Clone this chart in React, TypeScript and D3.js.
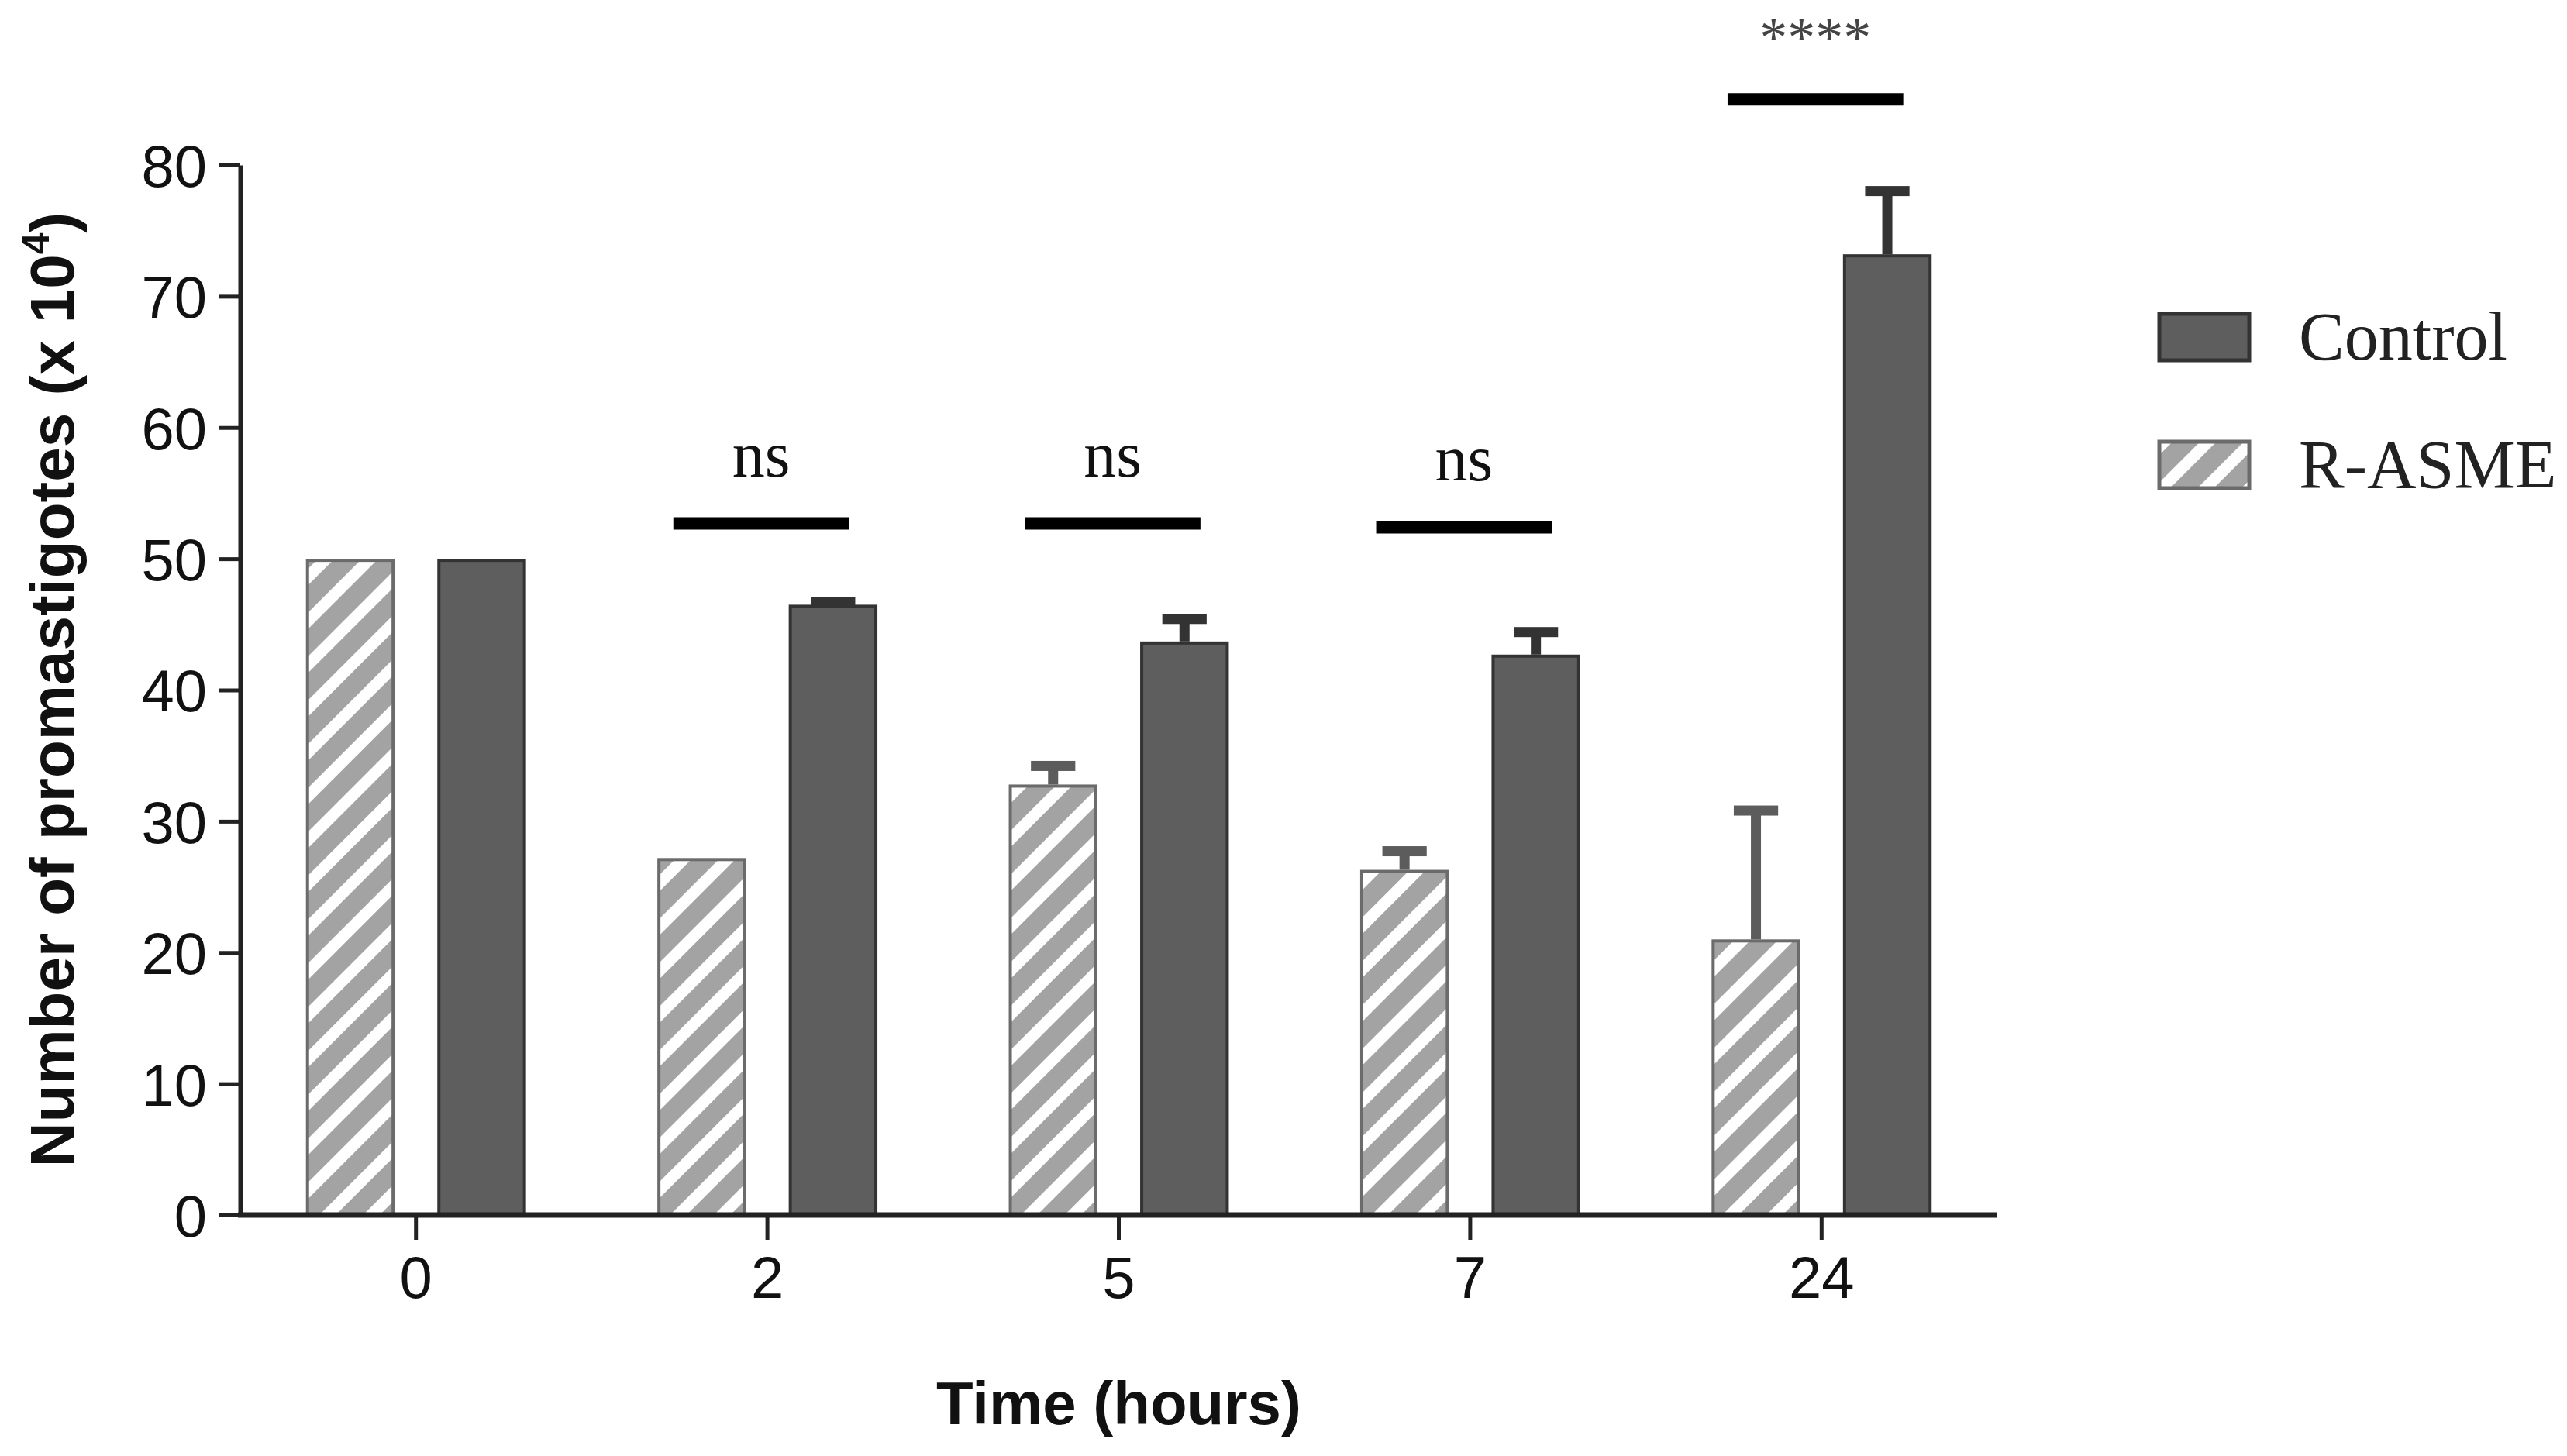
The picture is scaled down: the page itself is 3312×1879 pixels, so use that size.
import { useEffect, useRef } from "react";
import * as d3 from "d3";

const timepoints = ["0", "2", "5", "7", "24"];
const seriesNames = ["R-ASME", "Control"];
const controlMean = [50, 46.5, 43.7, 42.7, 73.2];
const controlErr = [0, 0.6, 2.1, 2.1, 5.2];
const rasmeMean = [50, 27.2, 32.8, 26.3, 21.0];
const rasmeErr = [0, 0, 1.8, 1.8, 10.2];
const sigLabels = ["", "ns", "ns", "ns", "****"];
const sigHeights = [NaN, 52.7, 52.7, 52.4, 85.0];
const yTicks = [0, 10, 20, 30, 40, 50, 60, 70, 80];
const legendItems = ["Control", "R-ASME"];

type Bar = { time: string; series: string; mean: number; err: number };

const bars: Bar[] = timepoints.flatMap((t, i) => [
  { time: t, series: "R-ASME", mean: rasmeMean[i], err: rasmeErr[i] },
  { time: t, series: "Control", mean: controlMean[i], err: controlErr[i] },
]);

const App = () => {
  const svgRef = useRef<SVGSVGElement | null>(null);

  const svgWidth = 3312;
  const svgHeight = 1879;

  useEffect(() => {
    if (!svgRef.current) return;
    const svg = d3.select(svgRef.current);
    svg.selectAll("*").remove();

    const left = 310;
    const right = 2577;
    const top = 213;
    const bottom = 1568;

    const sans = "'Liberation Sans', Arial, sans-serif";
    const serif = "'Liberation Serif', 'Times New Roman', serif";
    const axisColor = "#222";

    // hatch for R-ASME
    const defs = svg.append("defs");
    const pat = defs
      .append("pattern")
      .attr("id", "hatch")
      .attr("patternUnits", "userSpaceOnUse")
      .attr("width", 40)
      .attr("height", 40)
      .attr("patternTransform", "rotate(-45)");
    pat.append("rect").attr("width", 40).attr("height", 40).attr("fill", "#a3a3a3");
    pat.append("rect").attr("width", 40).attr("height", 15).attr("fill", "#fff");

    const x = d3.scaleBand<string>().domain(timepoints).range([left, right]);
    const xs = d3
      .scaleBand<string>()
      .domain(seriesNames)
      .range([0, x.bandwidth()])
      .paddingInner(0.325)
      .paddingOuter(0.5);
    const y = d3.scaleLinear().domain([0, 80]).range([bottom, top]);

    const fillFor = (s: string) => (s === "Control" ? "#5e5e5e" : "url(#hatch)");
    const strokeFor = (s: string) => (s === "Control" ? "#333" : "#6b6b6b");

    // bars
    const g = svg.append("g");
    g.selectAll("rect.bar")
      .data(bars)
      .join("rect")
      .attr("class", "bar")
      .attr("x", (d) => x(d.time)! + xs(d.series)! + 2)
      .attr("width", xs.bandwidth() - 4)
      .attr("y", (d) => y(d.mean) + 2)
      .attr("height", (d) => y(0) - y(d.mean) - 2)
      .attr("fill", (d) => fillFor(d.series))
      .attr("stroke", (d) => strokeFor(d.series))
      .attr("stroke-width", 4);

    // error bars
    const withErr = bars.filter((d) => d.err > 0);
    const cx = (d: Bar) => x(d.time)! + xs(d.series)! + xs.bandwidth() / 2;
    const errColor = (s: string) => (s === "Control" ? "#333" : "#5c5c5c");
    g.selectAll("line.stem")
      .data(withErr)
      .join("line")
      .attr("x1", cx)
      .attr("x2", cx)
      .attr("y1", (d) => y(d.mean))
      .attr("y2", (d) => y(d.mean + d.err) + 6)
      .attr("stroke", (d) => errColor(d.series))
      .attr("stroke-width", 13);
    g.selectAll("rect.cap")
      .data(withErr)
      .join("rect")
      .attr("x", (d) => cx(d) - xs.bandwidth() / 4)
      .attr("width", xs.bandwidth() / 2)
      .attr("y", (d) => y(d.mean + d.err))
      .attr("height", 13)
      .attr("fill", (d) => errColor(d.series));

    // axes
    const yAxis = svg
      .append("g")
      .attr("transform", `translate(${left},0)`)
      .call(
        d3
          .axisLeft(y)
          .tickValues(yTicks)
          .tickSize(27)
          .tickPadding(16)
          .tickSizeOuter(0)
      );
    yAxis.select(".domain").attr("stroke", axisColor).attr("stroke-width", 6);
    yAxis.selectAll(".tick line").attr("stroke", axisColor).attr("stroke-width", 5);
    yAxis
      .selectAll(".tick text")
      .attr("font-family", sans)
      .attr("font-size", 76)
      .attr("fill", "#111")
      .attr("dy", "0.36em");

    const xAxis = svg
      .append("g")
      .attr("transform", `translate(0,${bottom})`)
      .call(d3.axisBottom(x).tickSize(32).tickPadding(20).tickSizeOuter(0));
    xAxis
      .select(".domain")
      .attr("stroke", axisColor)
      .attr("stroke-width", 7)
      .attr("d", `M${left - 3},0H${right}`);
    xAxis.selectAll(".tick line").attr("stroke", axisColor).attr("stroke-width", 5);
    xAxis
      .selectAll(".tick text")
      .attr("font-family", sans)
      .attr("font-size", 76)
      .attr("fill", "#111")
      .attr("dy", "0.72em");

    // axis titles
    svg
      .append("text")
      .attr("x", (left + right) / 2)
      .attr("y", 1838)
      .attr("text-anchor", "middle")
      .attr("font-family", sans)
      .attr("font-weight", "bold")
      .attr("font-size", 78)
      .attr("fill", "#111")
      .text("Time (hours)");

    const yt = svg
      .append("text")
      .attr("transform", `translate(95,890) rotate(-90)`)
      .attr("text-anchor", "middle")
      .attr("font-family", sans)
      .attr("font-weight", "bold")
      .attr("font-size", 80)
      .attr("fill", "#111");
    yt.append("tspan").text("Number of promastigotes (x 10");
    yt.append("tspan").attr("font-size", 50).attr("dy", -32).text("4");
    yt.append("tspan").attr("dy", 32).text(")");

    // significance
    const sig = timepoints
      .map((t, i) => ({ t, label: sigLabels[i], h: sigHeights[i] }))
      .filter((d) => d.label !== "");
    const sg = svg.append("g");
    sg.selectAll("line")
      .data(sig)
      .join("line")
      .attr("x1", (d) => x(d.t)! + x.bandwidth() * 0.25 - 8)
      .attr("x2", (d) => x(d.t)! + x.bandwidth() * 0.75 - 8)
      .attr("y1", (d) => y(d.h))
      .attr("y2", (d) => y(d.h))
      .attr("stroke", "#000")
      .attr("stroke-width", 16);
    sg.selectAll("text")
      .data(sig)
      .join("text")
      .attr("x", (d) => x(d.t)! + x.bandwidth() / 2 - 8)
      .attr("y", (d) => y(d.h) - (d.label === "ns" ? 60 : 56))
      .attr("text-anchor", "middle")
      .attr("font-family", serif)
      .attr("font-size", (d) => (d.label === "ns" ? 84 : 72))
      .attr("fill", (d) => (d.label === "ns" ? "#111" : "#444"))
      .text((d) => d.label);

    // legend
    const lg = svg.append("g").attr("transform", "translate(2784,403)");
    const li = lg
      .selectAll("g")
      .data(legendItems)
      .join("g")
      .attr("transform", (_, i) => `translate(0,${i * 165})`);
    li.append("rect")
      .attr("x", 2)
      .attr("y", 2)
      .attr("width", 116)
      .attr("height", 60)
      .attr("fill", (d) => fillFor(d))
      .attr("stroke", (d) => strokeFor(d))
      .attr("stroke-width", 5);
    li.append("text")
      .attr("x", 182)
      .attr("y", 61)
      .attr("font-family", serif)
      .attr("font-size", 88)
      .attr("fill", "#222")
      .text((d) => d);
  }, []);

  return (
    <svg
      ref={svgRef}
      width={svgWidth}
      height={svgHeight}
      style={{ position: "absolute", left: 0, top: 0, background: "#fff" }}
    />
  );
};

export default App;
